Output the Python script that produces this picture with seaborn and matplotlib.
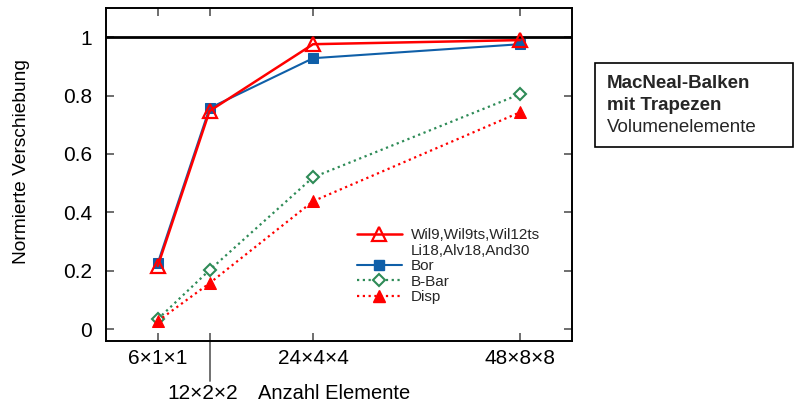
import matplotlib
matplotlib.use("Agg")
import matplotlib.pyplot as plt
from matplotlib.patches import Rectangle
from matplotlib.lines import Line2D
from matplotlib.transforms import ScaledTranslation
import seaborn as sns
import pandas as pd

sns.set_theme(style="white")
plt.rcParams["font.family"] = ["Liberation Sans", "DejaVu Sans"]

# Elements along the beam axis and the matching mesh labels
n_elem = [6, 12, 24, 48]
mesh_labels = ["6×1×1", "12×2×2", "24×4×4", "48×8×8"]

# Normalised tip displacement per element formulation
wil9 = [0.216, 0.747, 0.976, 0.990]
bor = [0.226, 0.757, 0.928, 0.976]
bbar = [0.034, 0.202, 0.520, 0.805]
disp = [0.027, 0.157, 0.438, 0.743]

label_wil = "Wil9,Wil9ts,Wil12ts"
label_wil2 = "Li18,Alv18,And30"
label_bor = "Bor"
label_bbar = "B-Bar"
label_disp = "Disp"

y_ticks = [0, 0.2, 0.4, 0.6, 0.8, 1]
y_tick_labels = ["0", "0.2", "0.4", "0.6", "0.8", "1"]

red = "#ff0000"
blue = "#0f5fa8"
green = "#2e8b57"

fig = plt.figure(figsize=(7.96, 4.04), dpi=100)
ax = fig.add_axes([106 / 796, 1 - 341 / 404, (572 - 106) / 796, (341 - 8) / 404])

ax.axhline(1.0, color="black", lw=2.0, zorder=1)

df = pd.DataFrame({"n": n_elem, "wil9": wil9, "bor": bor, "bbar": bbar, "disp": disp})

sns.lineplot(data=df, x="n", y="bbar", ax=ax, color=green, lw=1.6,
             linestyle=(0, (1, 1.6)), marker="D", markersize=6.5,
             markerfacecolor="white", markeredgecolor=green, markeredgewidth=1.5, zorder=3)
sns.lineplot(data=df, x="n", y="disp", ax=ax, color=red, lw=1.6,
             linestyle=(0, (1, 1.6)), marker="^", markersize=8,
             markerfacecolor=red, markeredgecolor=red, zorder=3)
sns.lineplot(data=df, x="n", y="bor", ax=ax, color=blue, lw=1.5,
             marker="s", markersize=6.5, markerfacecolor=blue,
             markeredgecolor=blue, zorder=4)
sns.lineplot(data=df, x="n", y="wil9", ax=ax, color=red, lw=1.8,
             marker="^", markersize=10, markerfacecolor="none",
             markeredgecolor=red, markeredgewidth=1.6, zorder=5)

ax.set_xlim(0, 54)
ax.set_ylim(-0.041, 1.1)
ax.set_xticks(n_elem)
ax.set_xticklabels(mesh_labels)
ax.set_yticks(y_ticks)
ax.set_yticklabels(y_tick_labels)
ax.tick_params(axis="both", direction="in", length=6, width=1.2, color="#555555",
               labelsize=15, labelcolor="black", top=True, right=True,
               bottom=True, left=True)
ax.tick_params(axis="x", pad=5.5)
ax.tick_params(axis="y", pad=10)

# second mesh label sits lower with a long tick leading to it
tick12 = ax.xaxis.get_major_ticks()[1]
tick12.set_pad(31)
tick12.label1.set_transform(tick12.label1.get_transform()
                            + ScaledTranslation(-0.07, 0, fig.dpi_scale_trans))
ax.axvline(n_elem[1], ymin=-0.12, ymax=0.0, color="#666666", lw=1.3, clip_on=False)

ax.set_xlabel("Anzahl Elemente", fontsize=14.5, color="black")
ax.xaxis.set_label_coords(0.489, -0.128)
ax.xaxis.label.set_va("top")
ax.set_ylabel("Normierte Verschiebung", fontsize=13.8, color="black")
ax.yaxis.set_label_coords(-0.182, 0.54)
ax.yaxis.label.set_va("center")

for s in ax.spines.values():
    s.set_color("black")
    s.set_linewidth(1.4)

handles = [
    Line2D([], [], color=red, lw=1.8, marker="^", markersize=10,
           markerfacecolor="none", markeredgecolor=red, markeredgewidth=1.6),
    Line2D([], [], color="none", lw=0),
    Line2D([], [], color=blue, lw=1.5, marker="s", markersize=6.5,
           markerfacecolor=blue, markeredgecolor=blue),
    Line2D([], [], color=green, lw=1.6, linestyle=(0, (1, 1.6)), marker="D",
           markersize=6.5, markerfacecolor="white", markeredgecolor=green,
           markeredgewidth=1.5),
    Line2D([], [], color=red, lw=1.6, linestyle=(0, (1, 1.6)), marker="^",
           markersize=8, markerfacecolor=red, markeredgecolor=red),
]
labels = [label_wil, label_wil2, label_bor, label_bbar, label_disp]
ax.legend(handles, labels, loc="upper left", bbox_to_anchor=(0.526, 0.357),
          frameon=False, fontsize=11, handlelength=2.9, handletextpad=0.6,
          labelspacing=0.1, borderaxespad=0, numpoints=1)

# info box on the right
fig.patches.append(Rectangle((595 / 796, 1 - 147 / 404), (793 - 595) / 796,
                             (147 - 63) / 404, transform=fig.transFigure,
                             facecolor="white", edgecolor="black", lw=1.2))
fig.text(607 / 796, 1 - 84 / 404, "MacNeal-Balken", fontsize=13.5, fontweight="bold",
         va="center", ha="left")
fig.text(607 / 796, 1 - 106 / 404, "mit Trapezen", fontsize=13.5, fontweight="bold",
         va="center", ha="left")
fig.text(607 / 796, 1 - 128 / 404, "Volumenelemente", fontsize=13.5,
         va="center", ha="left")

fig.savefig("out.png", dpi=100)
